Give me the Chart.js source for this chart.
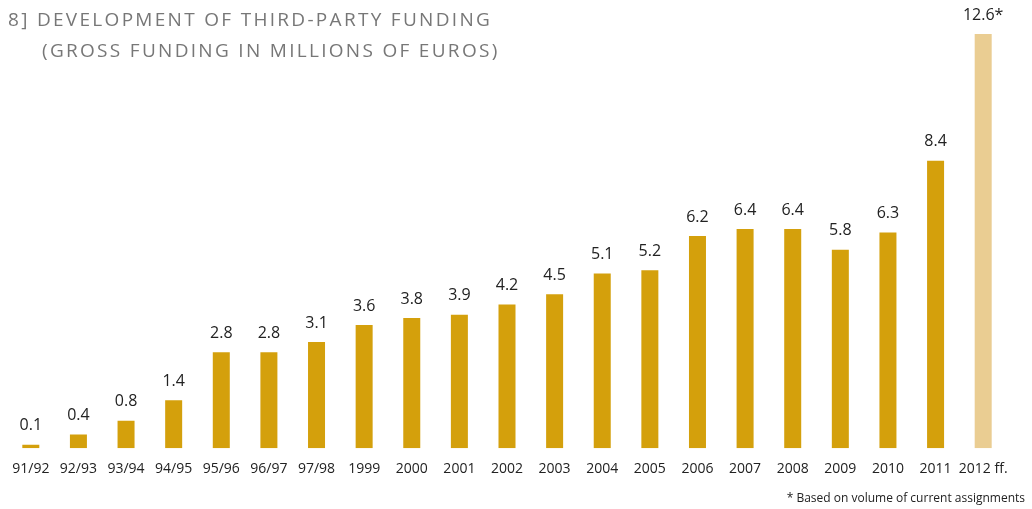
<!DOCTYPE html>
<html>
<head>
<meta charset="utf-8">
<script src="https://cdn.jsdelivr.net/npm/chart.js@4"></script>
<style>
  html, body { margin: 0; padding: 0; background: #fff; }
  #wrap { position: relative; width: 1032px; height: 509px; }
  .title {
    position: absolute;
    font-family: "Open Sans", sans-serif; font-size: 19px; color: #777;
    letter-spacing: 2.3px; line-height: 31px; white-space: pre;
  }
  #note {
    position: absolute; right: 7px; top: 489px;
    font-family: "Open Sans", sans-serif; font-size: 12px; color: #222;
  }
</style>
</head>
<body>
<div id="wrap">
  <canvas id="chart" width="1032" height="509"></canvas>
  <div class="title" style="left: 8px; top: 4px;">8] DEVELOPMENT OF THIRD-PARTY FUNDING</div>
  <div class="title" style="left: 42px; top: 35px;">(GROSS FUNDING IN MILLIONS OF EUROS)</div>
  <div id="note">* Based on volume of current assignments</div>
</div>
<script>
(function() {
    const years = ['91/92', '92/93', '93/94', '94/95', '95/96', '96/97', '97/98',
        '1999', '2000', '2001', '2002', '2003', '2004', '2005', '2006', '2007',
        '2008', '2009', '2010', '2011', '2012 ff.'];
    const funding = [0.1, 0.4, 0.8, 1.4, 2.8, 2.8, 3.1, 3.6, 3.8, 3.9, 4.2, 4.5,
        5.1, 5.2, 6.2, 6.4, 6.4, 5.8, 6.3, 8.4, 12.6];
    const valueLabels = ['0.1', '0.4', '0.8', '1.4', '2.8', '2.8', '3.1', '3.6', '3.8',
        '3.9', '4.2', '4.5', '5.1', '5.2', '6.2', '6.4', '6.4', '5.8', '6.3', '8.4', '12.6*'];

    const barColors = funding.map((v, i) => i === funding.length - 1 ? '#eacd92' : '#d4a00c');

    // draws the numbers above the bars
    const valueLabelPlugin = {
        id: 'valueLabels',
        afterDatasetsDraw(chart) {
            const ctx = chart.ctx;
            const meta = chart.getDatasetMeta(0);
            const area = chart.chartArea;
            ctx.save();
            ctx.font = '16px "Open Sans", sans-serif';
            ctx.fillStyle = '#222';
            ctx.textAlign = 'center';
            ctx.textBaseline = 'middle';
            meta.data.forEach((bar, i) => {
                const top = Math.max(bar.y, area.top);
                ctx.fillText(valueLabels[i], bar.x, top - 19);
            });
            ctx.restore();
        }
    };

    new Chart(document.getElementById('chart'), {
        type: 'bar',
        data: {
            labels: years,
            datasets: [{
                data: funding,
                backgroundColor: barColors,
                barPercentage: 0.357,
                categoryPercentage: 1.0,
            }],
        },
        options: {
            responsive: false,
            animation: false,
            layout: {
                padding: { left: 7, right: 25, top: 34, bottom: 28 },
            },
            scales: {
                x: {
                    grid: { display: false },
                    border: { display: false },
                    ticks: {
                        color: '#222',
                        font: { family: '"Open Sans", sans-serif', size: 14 },
                        padding: 4,
                        maxRotation: 0,
                        autoSkip: false,
                    },
                },
                y: {
                    display: false,
                    min: 0,
                    max: 12.1,
                },
            },
            plugins: {
                legend: { display: false },
                tooltip: { enabled: false },
            },
        },
        plugins: [valueLabelPlugin],
    });
})();
</script>
</body>
</html>
